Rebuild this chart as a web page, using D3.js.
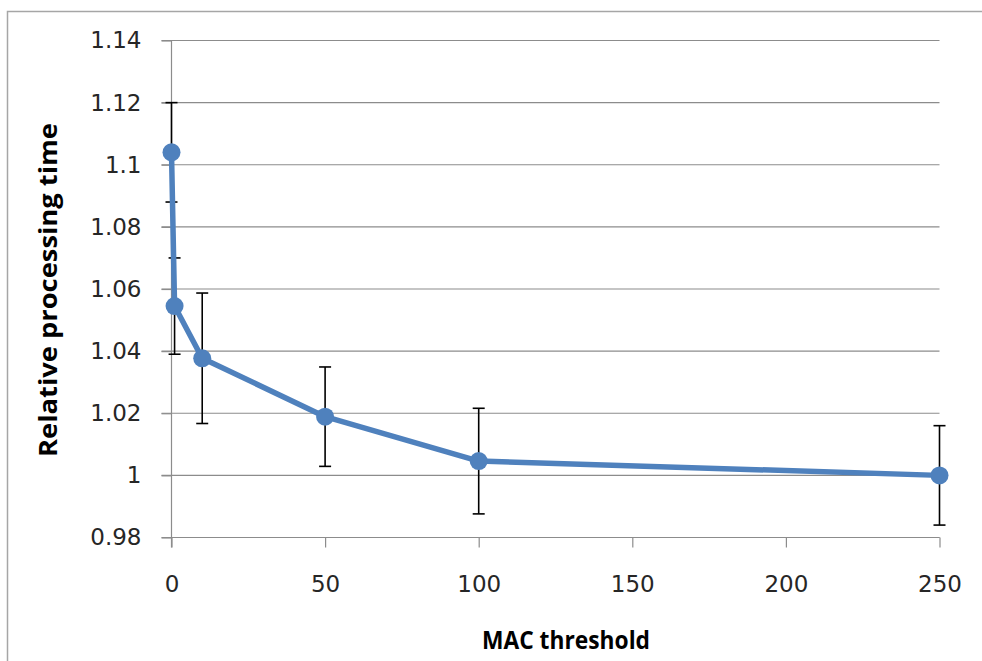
<!DOCTYPE html>
<html>
<head>
<meta charset="utf-8">
<script src="https://cdn.jsdelivr.net/npm/d3@7"></script>
<style>
  body { margin: 0; background: #fff; }
  svg { display: block; }
</style>
</head>
<body>
<div id="chart"></div>
<script>
var width = 982, height = 661;

// MAC threshold vs relative processing time
var thresholds = [0, 1, 10, 50, 100, 250];
var relTime = [1.104, 1.0545, 1.0377, 1.0189, 1.0046, 1.0];
var errSize = [0.016, 0.0155, 0.021, 0.016, 0.017, 0.016];
var xTicks = [0, 50, 100, 150, 200, 250];
var yTicks = [0.98, 1, 1.02, 1.04, 1.06, 1.08, 1.1, 1.12, 1.14];

var lineColor = "#4f81bd";
var gridColor = "#8c8c8c";

var svg = d3.select("#chart").append("svg")
    .attr("width", width)
    .attr("height", height);

// chart frame
svg.append("rect")
    .attr("x", 7.5).attr("y", 11.5)
    .attr("width", 990).attr("height", 670)
    .attr("fill", "none")
    .attr("stroke", "#a6a6a6")
    .attr("stroke-width", 1.5);

var x = d3.scaleLinear().domain([0, 250]).range([171.5, 939.5]);
var y = d3.scaleLinear().domain([0.98, 1.14]).range([537.5, 40.5]);

// horizontal gridlines
svg.append("g")
  .selectAll("line")
  .data(yTicks)
  .join("line")
    .attr("x1", x(0) - 10).attr("x2", x(250))
    .attr("y1", d => y(d)).attr("y2", d => y(d))
    .attr("stroke", gridColor)
    .attr("stroke-width", 1.2);

// y axis
var yAxis = svg.append("g")
    .attr("transform", "translate(" + x(0) + ",0)")
    .call(d3.axisLeft(y).tickValues(yTicks).tickSize(10).tickPadding(20)
        .tickFormat(d => String(+d.toFixed(2))));

// x axis
var xAxis = svg.append("g")
    .attr("transform", "translate(0," + y(0.98) + ")")
    .call(d3.axisBottom(x).tickValues(xTicks).tickSize(10).tickPadding(28));

[yAxis, xAxis].forEach(function(ax) {
  ax.select(".domain").attr("stroke", gridColor).attr("stroke-width", 1.2);
  ax.selectAll(".tick line").attr("stroke", gridColor).attr("stroke-width", 1.2);
  ax.selectAll("text")
    .attr("fill", "#262626")
    .style("font-family", "DejaVu Sans")
    .style("font-size", "23px");
});
yAxis.select(".domain").attr("d", "M0," + (y(1.14)) + "V" + (y(0.98) + 10));
xAxis.select(".domain").attr("d", "M" + x(0) + ",0H" + x(250));

var pts = thresholds.map((t, i) => ({ t: t, v: relTime[i], e: errSize[i] }));

// error bars
var eb = svg.append("g").attr("stroke", "#000").attr("stroke-width", 1.6);
eb.selectAll("line.bar").data(pts).join("line").attr("class", "bar")
    .attr("x1", d => x(d.t)).attr("x2", d => x(d.t))
    .attr("y1", d => y(d.v - d.e)).attr("y2", d => y(d.v + d.e));
eb.selectAll("line.top").data(pts).join("line").attr("class", "top")
    .attr("x1", d => x(d.t) - 6).attr("x2", d => x(d.t) + 6)
    .attr("y1", d => y(d.v + d.e)).attr("y2", d => y(d.v + d.e));
eb.selectAll("line.bot").data(pts).join("line").attr("class", "bot")
    .attr("x1", d => x(d.t) - 6).attr("x2", d => x(d.t) + 6)
    .attr("y1", d => y(d.v - d.e)).attr("y2", d => y(d.v - d.e));

// series line
var line = d3.line().x(d => x(d.t)).y(d => y(d.v));
svg.append("path")
    .datum(pts)
    .attr("d", line)
    .attr("fill", "none")
    .attr("stroke", lineColor)
    .attr("stroke-width", 5.5)
    .attr("stroke-linejoin", "round");

svg.append("g")
  .selectAll("circle")
  .data(pts)
  .join("circle")
    .attr("cx", d => x(d.t))
    .attr("cy", d => y(d.v))
    .attr("r", 9)
    .attr("fill", lineColor);

// axis titles
svg.append("text")
    .attr("x", 566).attr("y", 649)
    .attr("text-anchor", "middle")
    .style("font-family", "Open Sans")
    .style("font-weight", "bold")
    .style("font-size", "25px")
    .attr("textLength", 168)
    .attr("lengthAdjust", "spacingAndGlyphs")
    .text("MAC threshold");

svg.append("text")
    .attr("transform", "translate(57,290) rotate(-90)")
    .attr("text-anchor", "middle")
    .style("font-family", "Open Sans")
    .style("font-weight", "bold")
    .style("font-size", "25px")
    .attr("textLength", 334)
    .attr("lengthAdjust", "spacingAndGlyphs")
    .text("Relative processing time");
</script>
</body>
</html>
